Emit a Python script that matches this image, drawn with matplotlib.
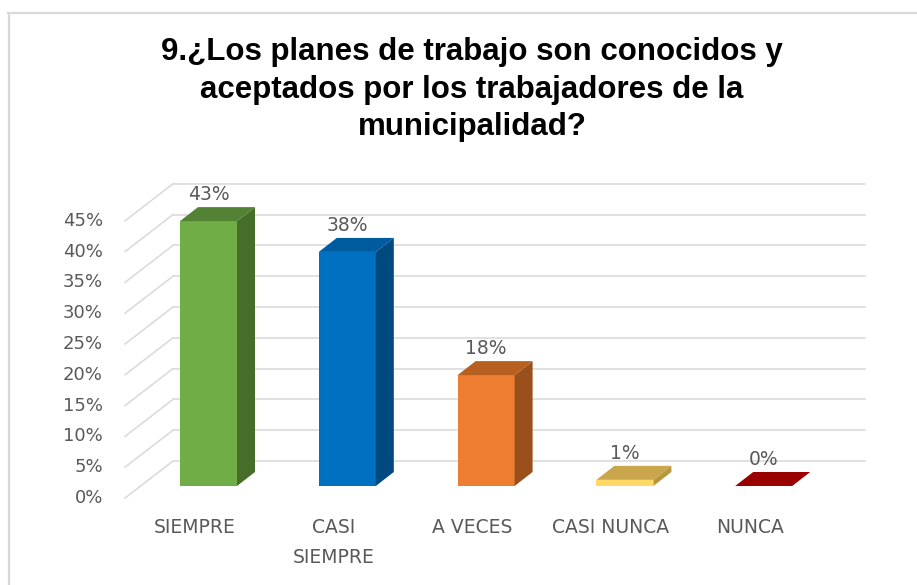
import matplotlib
matplotlib.use("Agg")
import matplotlib.pyplot as plt
from matplotlib.patches import Polygon
from matplotlib.lines import Line2D

# Datos
categorias = ["SIEMPRE", "CASI\nSIEMPRE", "A VECES", "CASI NUNCA", "NUNCA"]
valores = [43, 38, 18, 1, 0]
etiquetas = ["43%", "38%", "18%", "1%", "0%"]
ticks_y = [0, 5, 10, 15, 20, 25, 30, 35, 40, 45]

col_frente = ["#70AD47", "#0070C0", "#ED7D31", "#FFD966", "#C00000"]
col_arriba = ["#548235", "#005A9E", "#B85F22", "#C9A64C", "#990000"]
col_lado = ["#466E2A", "#004A80", "#99501C", "#B8963E", "#7A0000"]

titulo = "9.¿Los planes de trabajo son conocidos y\naceptados por los trabajadores de la\nmunicipalidad?"

W, H = 917, 585
X0, DXP = 208.5, 138.8      # px del centro de la 1a barra, px por categoria
Y0, PYP = 486.0, 6.16       # px de la base de las barras, px por 1%

fig = plt.figure(figsize=(W / 100, H / 100), dpi=100)
ax = fig.add_axes([0, 0, 1, 1])
ax.set_xlim(-X0 / DXP, (W - X0) / DXP)
ax.set_ylim((Y0 - H) / PYP, Y0 / PYP)
ax.axis("off")

fuente = ["DejaVu Sans"]
gris = "#595959"
gcol = "#D9D9D9"

# profundidad (efecto 3D)
ddx = 18 / DXP
ddy = 14 / PYP
frente = -12 / PYP
fondo = 25 / PYP
x_izq = (125 - X0) / DXP
x_pared = (173 - X0) / DXP
x_der = (865 - X0) / DXP

# lineas de cuadricula en perspectiva
for t in ticks_y:
    ax.plot([x_izq, x_pared], [t + frente, t + fondo], color=gcol, lw=1.1, zorder=1)
    ax.plot([x_pared, x_der], [t + fondo, t + fondo], color=gcol, lw=1.1, zorder=1)
    ax.text(x_izq - 22 / DXP, t + frente, f"{t}%", ha="right", va="center",
            fontsize=13, color=gris, family=fuente)

ancho = 57 / DXP
xs = list(range(len(valores)))
ax.bar(xs, valores, width=ancho, color=col_frente, zorder=3, linewidth=0)

for i, v in enumerate(valores):
    l, r = i - ancho / 2, i + ancho / 2
    lado = Polygon([(r, 0), (r + ddx, ddy), (r + ddx, v + ddy), (r, v)],
                   closed=True, facecolor=col_lado[i], edgecolor="none", zorder=3)
    tapa = Polygon([(l, v), (l + ddx, v + ddy), (r + ddx, v + ddy), (r, v)],
                   closed=True, facecolor=col_arriba[i], edgecolor="none", zorder=4)
    ax.add_patch(lado)
    ax.add_patch(tapa)
    ax.text(i, v + ddy + 2.0, etiquetas[i], ha="center", va="center",
            fontsize=13.5, color=gris, family=fuente, zorder=5)
    ax.text(i - 14 / DXP, (Y0 - 518) / PYP, categorias[i], ha="center", va="top",
            fontsize=13.5, color=gris, family=fuente, linespacing=1.75)

# titulo
fig.text(472 / W, 1 - 37 / H, titulo, ha="center", va="top", fontsize=22.5,
         fontweight="bold", family=["Liberation Sans", "DejaVu Sans"],
         color="black", linespacing=1.33)

# borde del grafico
fig.add_artist(Line2D([8 / W, 1], [1 - 13 / H, 1 - 13 / H], color=gcol, lw=1.6,
                      transform=fig.transFigure))
fig.add_artist(Line2D([9 / W, 9 / W], [0, 1 - 13 / H], color=gcol, lw=1.6,
                      transform=fig.transFigure))

fig.savefig("out.png", dpi=100)
